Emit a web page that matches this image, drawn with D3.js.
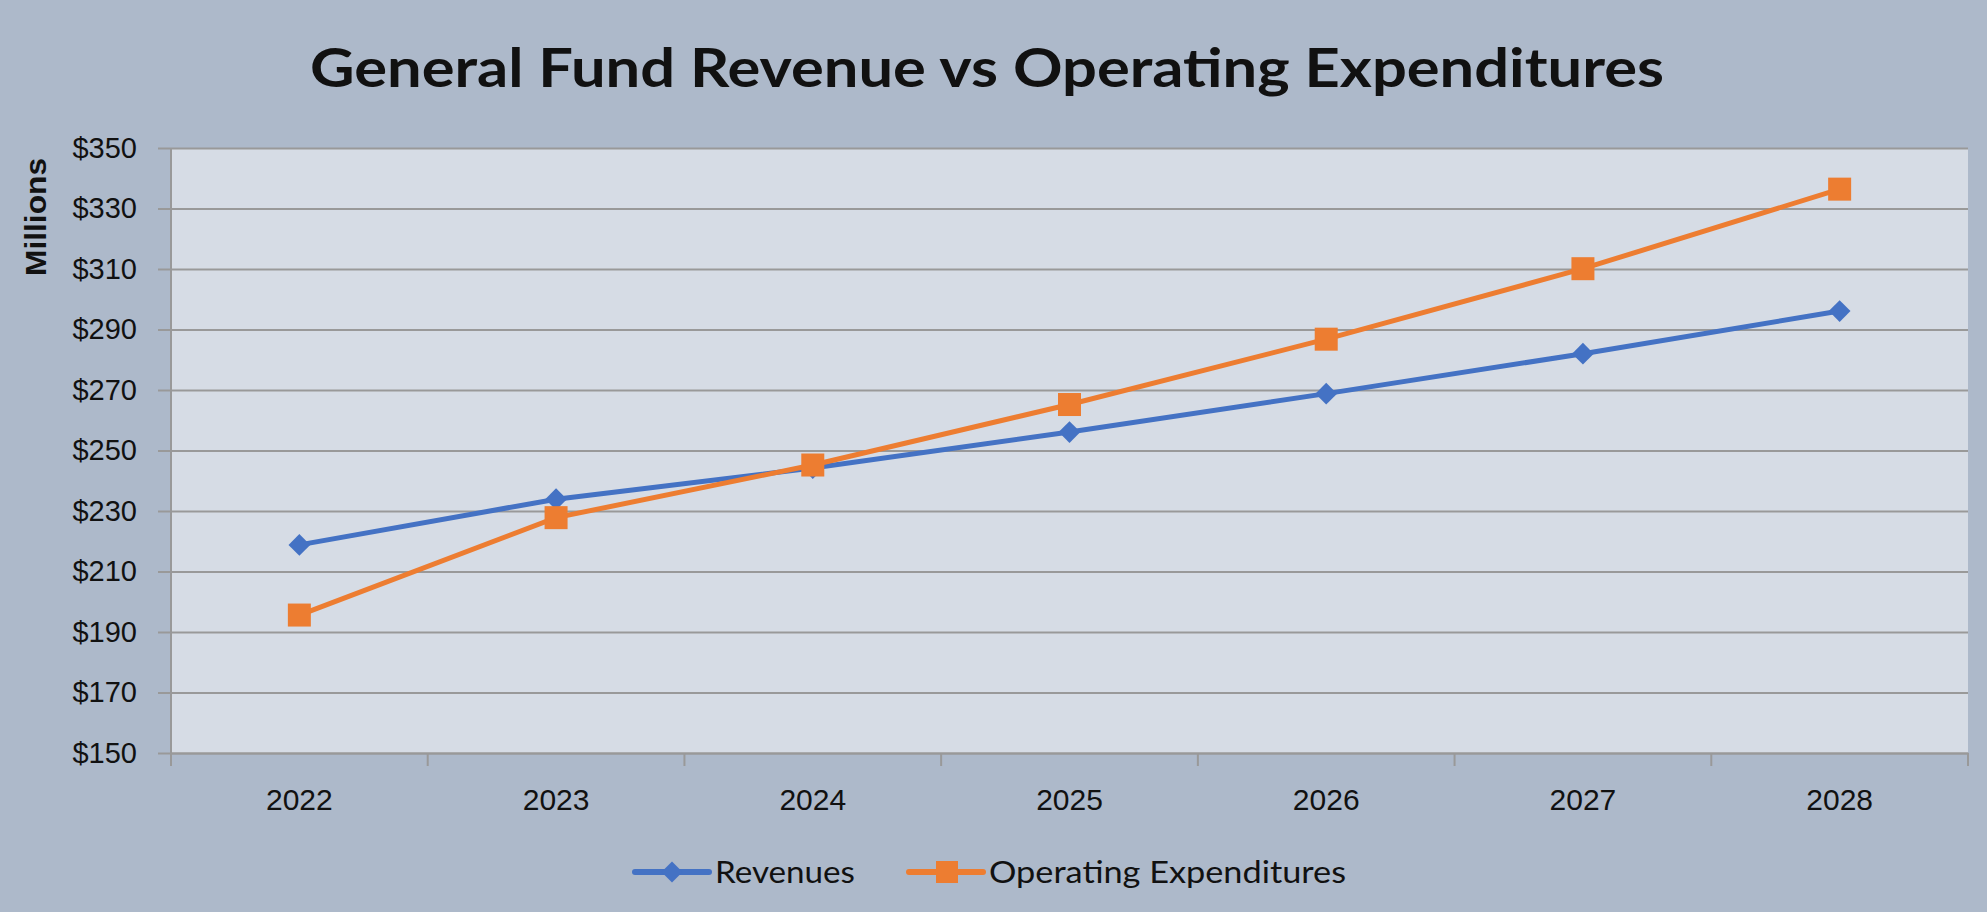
<!DOCTYPE html>
<html>
<head>
<meta charset="utf-8">
<script src="https://cdn.jsdelivr.net/npm/d3@7"></script>
<style>
	body { margin: 0; background: #adb9ca; }
	svg { display: block; }
</style>
</head>
<body>
<div></div>
<script>
var years = ["2022", "2023", "2024", "2025", "2026", "2027", "2028"];
var revenues = [218.8, 233.9, 244.2, 256.1, 268.8, 282.0, 296.1];
var expenditures = [195.6, 227.8, 245.2, 265.2, 286.8, 310.1, 336.4];
var yTicks = [150, 170, 190, 210, 230, 250, 270, 290, 310, 330, 350];
var seriesNames = ["Revenues", "Operating Expenditures"];
var seriesColors = ["#4472c4", "#ed7d31"];

var width = 1987,
	height = 912,
	plot = { left: 171, right: 1968, top: 148, bottom: 753 };

var svgContainer = d3.select("div")
	.append("svg")
	.attr("width", width)
	.attr("height", height);

svgContainer.append("rect")
	.attr("width", width)
	.attr("height", height)
	.attr("fill", "#adb9ca");

var xScale = d3.scaleBand().domain(years).range([plot.left, plot.right]);
var yScale = d3.scaleLinear().domain([150, 350]).range([plot.bottom, plot.top]);

// plot background
svgContainer.append("rect")
	.attr("x", plot.left)
	.attr("y", plot.top)
	.attr("width", plot.right - plot.left)
	.attr("height", plot.bottom - plot.top)
	.attr("fill", "#d6dce5");

// title
svgContainer.append("text")
	.attr("x", 987)
	.attr("y", 87)
	.attr("text-anchor", "middle")
	.attr("font-family", "Lato, 'Noto Sans', sans-serif")
	.attr("font-weight", "bold")
	.attr("font-size", 54)
	.attr("textLength", 1354)
	.attr("lengthAdjust", "spacingAndGlyphs")
	.attr("fill", "#111")
	.text("General Fund Revenue vs Operating Expenditures");

// y axis + gridlines
var yAxis = d3.axisLeft(yScale)
	.tickValues(yTicks)
	.tickSize(-(plot.right - plot.left + 13))
	.tickPadding(21)
	.tickFormat(function(d) { return "$" + d; });

var yAxisGroup = svgContainer.append("g")
	.attr("transform", "translate(" + (plot.left - 13) + ",0)")
	.call(yAxis);
yAxisGroup.select(".domain").remove();
yAxisGroup.selectAll("line")
	.attr("stroke", "#999")
	.attr("stroke-width", 2);
yAxisGroup.selectAll("text")
	.attr("font-family", "'Liberation Sans', Arial, sans-serif")
	.attr("font-size", 29)
	.attr("fill", "#111");

// left axis line
svgContainer.append("line")
	.attr("x1", plot.left).attr("x2", plot.left)
	.attr("y1", plot.top).attr("y2", plot.bottom)
	.attr("stroke", "#999")
	.attr("stroke-width", 2);

// x axis
var xAxisGroup = svgContainer.append("g")
	.attr("transform", "translate(0," + plot.bottom + ")")
	.call(d3.axisBottom(xScale).tickSize(0).tickPadding(36));
xAxisGroup.select(".domain")
	.attr("stroke", "#999")
	.attr("stroke-width", 2);
xAxisGroup.selectAll("text")
	.attr("font-family", "'Liberation Sans', Arial, sans-serif")
	.attr("font-size", 30)
	.attr("fill", "#111");

// category boundary ticks
var boundaries = years.map(function(y) { return xScale(y); }).concat([plot.right]);
svgContainer.selectAll(".xtick")
	.data(boundaries)
	.enter().append("line")
	.attr("x1", function(d) { return d; })
	.attr("x2", function(d) { return d; })
	.attr("y1", plot.bottom)
	.attr("y2", plot.bottom + 13)
	.attr("stroke", "#999")
	.attr("stroke-width", 2);

// y axis title
svgContainer.append("text")
	.attr("transform", "translate(46,217) rotate(-90)")
	.attr("text-anchor", "middle")
	.attr("font-family", "'Liberation Sans', Arial, sans-serif")
	.attr("font-weight", "bold")
	.attr("font-size", 30)
	.attr("textLength", 118)
	.attr("lengthAdjust", "spacingAndGlyphs")
	.attr("fill", "#111")
	.text("Millions");

// series
var cx = function(d, i) { return xScale(years[i]) + xScale.bandwidth() / 2; };
var line = d3.line()
	.x(function(d, i) { return cx(d, i); })
	.y(function(d) { return yScale(d); });

var allSeries = [revenues, expenditures];
var diamond = d3.symbol().type(d3.symbolDiamond2).size(300);

allSeries.forEach(function(values, s) {
	svgContainer.append("path")
		.datum(values)
		.attr("d", line)
		.attr("fill", "none")
		.attr("stroke", seriesColors[s])
		.attr("stroke-width", 5);

	if (s === 0) {
		svgContainer.selectAll(".rev-marker")
			.data(values)
			.enter().append("path")
			.attr("d", diamond)
			.attr("transform", function(d, i) { return "translate(" + cx(d, i) + "," + yScale(d) + ")"; })
			.attr("fill", seriesColors[s]);
	} else {
		svgContainer.selectAll(".exp-marker")
			.data(values)
			.enter().append("rect")
			.attr("x", function(d, i) { return cx(d, i) - 11.5; })
			.attr("y", function(d) { return yScale(d) - 11.5; })
			.attr("width", 23)
			.attr("height", 23)
			.attr("fill", seriesColors[s]);
	}
});

// legend
var legendItems = [
	{ x: 635, textLen: 140 },
	{ x: 909, textLen: 357 }
];
legendItems.forEach(function(item, s) {
	var g = svgContainer.append("g").attr("transform", "translate(" + item.x + ",872)");
	g.append("line")
		.attr("x1", 0).attr("x2", 74)
		.attr("y1", 0).attr("y2", 0)
		.attr("stroke", seriesColors[s])
		.attr("stroke-width", 6)
		.attr("stroke-linecap", "round");
	if (s === 0) {
		g.append("path")
			.attr("d", d3.symbol().type(d3.symbolDiamond2).size(280))
			.attr("transform", "translate(37,0)")
			.attr("fill", seriesColors[s]);
	} else {
		g.append("rect")
			.attr("x", 27).attr("y", -11)
			.attr("width", 22).attr("height", 22)
			.attr("fill", seriesColors[s]);
	}
	g.append("text")
		.attr("x", 80)
		.attr("y", 11)
		.attr("font-family", "Lato, 'Noto Sans', sans-serif")
		.attr("font-size", 30)
		.attr("textLength", item.textLen)
		.attr("lengthAdjust", "spacingAndGlyphs")
		.attr("fill", "#111")
		.text(seriesNames[s]);
});
</script>
</body>
</html>
